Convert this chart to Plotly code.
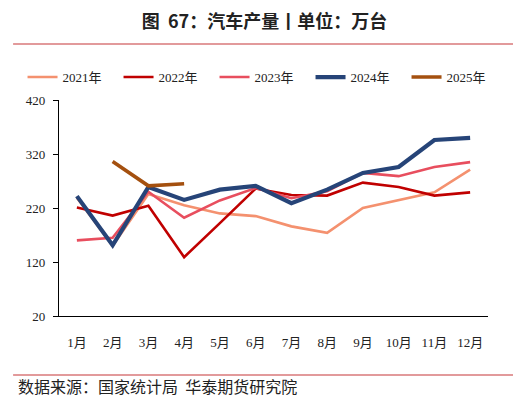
import plotly.graph_objects as go

months = ["1月", "2月", "3月", "4月", "5月", "6月", "7月", "8月", "9月", "10月", "11月", "12月"]

v2021 = [239, 150, 246, 225, 210, 205, 186, 174, 220, 235, 249, 291]
v2022 = [221, 206, 224, 129, 192, 256, 244, 243, 267, 259, 243, 249]
v2023 = [160, 165, 250, 202, 234, 257, 238, 251, 285, 279, 296, 305]
v2024 = [242, 151, 259, 235, 254, 261, 229, 254, 285, 296, 346, 350]
v2025 = [None, 306, 261, 265]

series = [
    ("2021年", v2021, "#F4916F", 2.6),
    ("2022年", v2022, "#C00000", 2.6),
    ("2023年", v2023, "#E84E5E", 2.6),
    ("2024年", v2024, "#264478", 4.2),
    ("2025年", v2025, "#A4500F", 3.6),
]

serif = "Liberation Serif, Times New Roman, Noto Sans CJK SC, serif"
sans = "Noto Sans CJK SC, sans-serif"

fig = go.Figure()
for name, vals, color, width in series:
    fig.add_trace(go.Scatter(
        x=months[:len(vals)], y=vals, name=name, mode="lines",
        line=dict(color=color, width=width), connectgaps=False,
    ))

# page body has an 8px margin, so the figure is sized to fit the window
fig.update_layout(
    width=513, height=393,
    margin=dict(l=51, r=33, t=92, b=85),
    paper_bgcolor="white", plot_bgcolor="white",
    showlegend=True,
    legend=dict(
        orientation="h", x=-0.085, xanchor="left", y=1.106, yanchor="middle",
        font=dict(family=serif, size=13, color="#222"),
        entrywidth=51, itemwidth=30, bgcolor="rgba(0,0,0,0)",
    ),
    title=dict(
        text="<b>图  67：汽车产量丨单位：万台</b>",
        x=0.5, xanchor="center", y=0.966, yanchor="middle",
        font=dict(family=sans, size=18, color="#222"),
    ),
    xaxis=dict(
        type="category", range=[-0.5, 11.5],
        showline=True, linecolor="#000", linewidth=1.3,
        ticks="", showgrid=False, ticklabelstandoff=14,
        tickfont=dict(family=serif, size=13, color="#222"),
    ),
    yaxis=dict(
        range=[20, 420], tickvals=[20, 120, 220, 320, 420],
        showline=True, linecolor="#000", linewidth=1.3,
        ticks="outside", ticklen=5, tickcolor="#000",
        showgrid=False, zeroline=False, ticklabelstandoff=5,
        tickfont=dict(family=serif, size=13, color="#222"),
    ),
    shapes=[
        dict(type="line", xref="paper", yref="paper",
             x0=-0.107, x1=1.077, y0=1.259, y1=1.259,
             line=dict(color="#D9787A", width=1.5)),
        dict(type="line", xref="paper", yref="paper",
             x0=-0.107, x1=1.077, y0=-0.273, y1=-0.273,
             line=dict(color="#D9787A", width=1.5)),
    ],
    annotations=[
        dict(text="数据来源：国家统计局  华泰期货研究院", xref="paper", yref="paper",
             x=-0.1, y=-0.325, xanchor="left", yanchor="middle", showarrow=False,
             font=dict(family=sans, size=16, color="#222")),
    ],
)

fig.write_html("out.html")
